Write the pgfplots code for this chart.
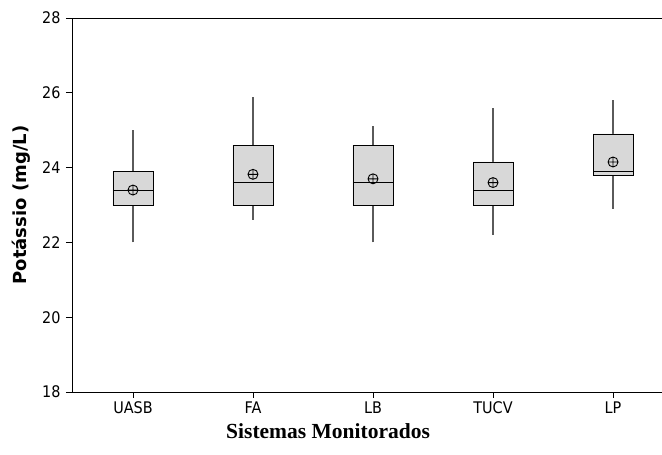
\documentclass[border=0pt]{standalone}
\usepackage{pgfplots}
\pgfplotsset{compat=1.18}
\usetikzlibrary{calc}
\usepackage{fontspec}
\setmainfont{DejaVu Sans}[FakeStretch=0.9]
\newfontfamily\labfont{DejaVu Sans}
\newfontfamily\timesbf{Liberation Serif}
\definecolor{boxfill}{RGB}{216,216,216}
\definecolor{whisk}{RGB}{90,90,90}
% pos, left, right, lower whisker, lower quartile, median, upper quartile, upper whisker
\newcommand{\bp}[8]{%
  \addplot[whisk, line width=1.3pt] coordinates {(#1,#4) (#1,#5)};
  \addplot[whisk, line width=1.3pt] coordinates {(#1,#7) (#1,#8)};
  \addplot[draw=black, fill=boxfill, line width=0.8pt, line join=miter] coordinates {(#2,#5) (#3,#5) (#3,#7) (#2,#7) (#2,#5)};
  \addplot[black, line width=0.9pt] coordinates {(#2,#6) (#3,#6)};
}
\begin{document}
\begin{tikzpicture}
\begin{axis}[
  width=590pt, height=374pt, scale only axis,
  xmin=-0.508, xmax=4.408, ymin=18, ymax=28,
  axis x line=box, axis y line=left,
  axis line style={-, line width=0.8pt, black},
  every outer y axis line/.append style={-},
  every outer x axis line/.append style={-},
  ytick={18,20,22,24,26,28},
  xtick={0,1,2,3,4}, xticklabels={UASB,FA,LB,TUCV,LP},
  tick align=outside, tick pos=left, major tick length=6pt,
  tick style={black, line width=0.8pt},
  /pgf/number format/assume math mode=true,
  tick label style={font=\fontsize{16}{18}\selectfont},
  yticklabel style={xshift=-2pt},
  ylabel={Potássio (mg/L)},
  every axis y label/.style={at={(rel axis cs:0,0.5)}, xshift=-51pt, rotate=90, anchor=center,
     font=\fontsize{18}{20}\selectfont\labfont\bfseries},
  xlabel={Sistemas Monitorados},
  every axis x label/.style={at={(axis description cs:0.434,0)}, yshift=-39pt, anchor=center,
     font=\fontsize{21.5}{24}\selectfont\timesbf\bfseries},
]
\bp{0}{-0.1667}{0.1667}{22.0}{23.0}{23.4}{23.9}{25.0}
\bp{1}{0.8333}{1.1667}{22.6}{23.0}{23.6}{24.6}{25.9}
\bp{2}{1.8333}{2.1667}{22.0}{23.0}{23.6}{24.6}{25.1}
\bp{3}{2.8333}{3.1667}{22.2}{23.0}{23.38}{24.15}{25.6}
\bp{4}{3.8333}{4.1667}{22.9}{23.8}{23.9}{24.9}{25.8}
\addplot[only marks, mark=oplus, mark size=5pt, black, mark options={line width=0.9pt}] coordinates {(0,23.4) (1,23.82) (2,23.7) (3,23.6) (4,24.15)};
\coordinate (bl) at (rel axis cs:0,0);
\coordinate (tr) at (rel axis cs:1,1);
\end{axis}
\pgfresetboundingbox
\path ($(bl)+(-72pt,-63pt)$) rectangle ($(tr)+(0pt,18pt)$);
\end{tikzpicture}
\end{document}
